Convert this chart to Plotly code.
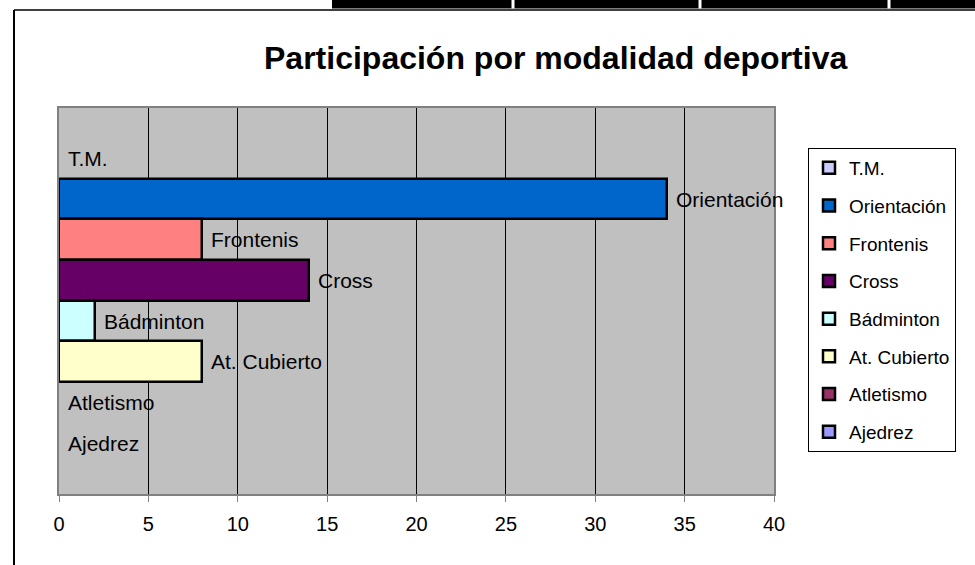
import plotly.graph_objects as go

# ---- data ----
series_names = ["T.M.", "Orientación", "Frontenis", "Cross", "Bádminton",
                "At. Cubierto", "Atletismo", "Ajedrez"]
series_values = [0, 34, 8, 14, 2, 8, 0, 0]
series_colors = ["#CCCCFF", "#0066CC", "#FF8080", "#660066", "#CCFFFF",
                 "#FFFFCC", "#993366", "#9999FF"]
x_ticks = [0, 5, 10, 15, 20, 25, 30, 35, 40]
title_text = "Participación por modalidad deportiva"

FONT = "Liberation Sans, Arial, sans-serif"

# ---- pixel layout helpers (figure 975x565) ----
W, H = 975, 565
L, R, T, B = 59, 774, 108, 494
pw, ph = R - L, B - T


def px(x):
    return (x - L) / pw


def py(y):
    return (B - y) / ph


fig = go.Figure()
for i, (name, val, col) in enumerate(zip(series_names, series_values, series_colors)):
    # a zero-length bar is not drawn (as in the original chart)
    fig.add_trace(go.Bar(
        y=[name], x=[val if val else None], name=name, orientation="h",
        marker=dict(color=col, line=dict(color="black", width=2.5)),
        legendgroup=f"g{i}", cliponaxis=False,
        hoverinfo="x+name",
    ))
    fig.add_annotation(
        x=val, y=name, xref="x", yref="y", text=name, showarrow=False,
        xanchor="left", yanchor="middle", xshift=7,
        font=dict(family=FONT, size=21, color="black"),
    )

# title
fig.add_annotation(
    x=px(555), y=py(58), xref="paper", yref="paper", text=f"<b>{title_text}</b>",
    showarrow=False, xanchor="center", yanchor="middle",
    font=dict(family=FONT, size=32, color="black"),
)

shapes = [
    # outer chart border (left and top)
    dict(type="line", xref="paper", yref="paper", x0=px(14), x1=px(14),
         y0=py(10), y1=py(600), line=dict(color="black", width=2)),
    dict(type="line", xref="paper", yref="paper", x0=px(14), x1=px(1000),
         y0=py(10), y1=py(10), line=dict(color="black", width=1.5)),
    # black band at top
    dict(type="rect", xref="paper", yref="paper", x0=px(332), x1=px(1000),
         y0=py(8.5), y1=py(-5), fillcolor="black", line=dict(width=0)),
]
for dx in [513, 700, 889]:
    shapes.append(dict(type="line", xref="paper", yref="paper", x0=px(dx), x1=px(dx),
                       y0=py(8.5), y1=py(-5), line=dict(color="white", width=3)))

n = len(series_names)
fig.update_layout(
    width=W, height=H,
    margin=dict(l=L, r=W - R, t=T, b=H - B, pad=0),
    paper_bgcolor="white", plot_bgcolor="#C0C0C0",
    barmode="overlay", bargap=0,
    font=dict(family=FONT, size=20, color="black"),
    showlegend=True,
    legend=dict(
        x=px(808), y=py(148), xanchor="left", yanchor="top",
        bgcolor="white", bordercolor="black", borderwidth=1,
        font=dict(family=FONT, size=19, color="black"),
        traceorder="grouped", tracegroupgap=10,
    ),
    xaxis=dict(
        range=[0, 40], tickvals=x_ticks, ticktext=[str(v) for v in x_ticks],
        showgrid=True, gridcolor="black", gridwidth=1,
        ticks="outside", ticklen=6, tickcolor="#808080", tickwidth=1,
        showline=True, linecolor="#808080", linewidth=2, mirror=True,
        zeroline=False, ticklabelstandoff=5,
        tickfont=dict(family=FONT, size=20, color="black"),
        fixedrange=True,
    ),
    yaxis=dict(
        categoryorder="array", categoryarray=series_names,
        range=[n - 0.5 + 0.75, -0.5 - 0.74],
        showticklabels=False, ticks="", showgrid=False,
        showline=True, linecolor="#808080", linewidth=2, mirror=True,
        zeroline=False, fixedrange=True,
    ),
    shapes=shapes,
)

fig.write_html(
    "out.html",
    config={"displayModeBar": False},
    post_script="document.body.style.margin='0';document.body.style.overflow='hidden';",
)
